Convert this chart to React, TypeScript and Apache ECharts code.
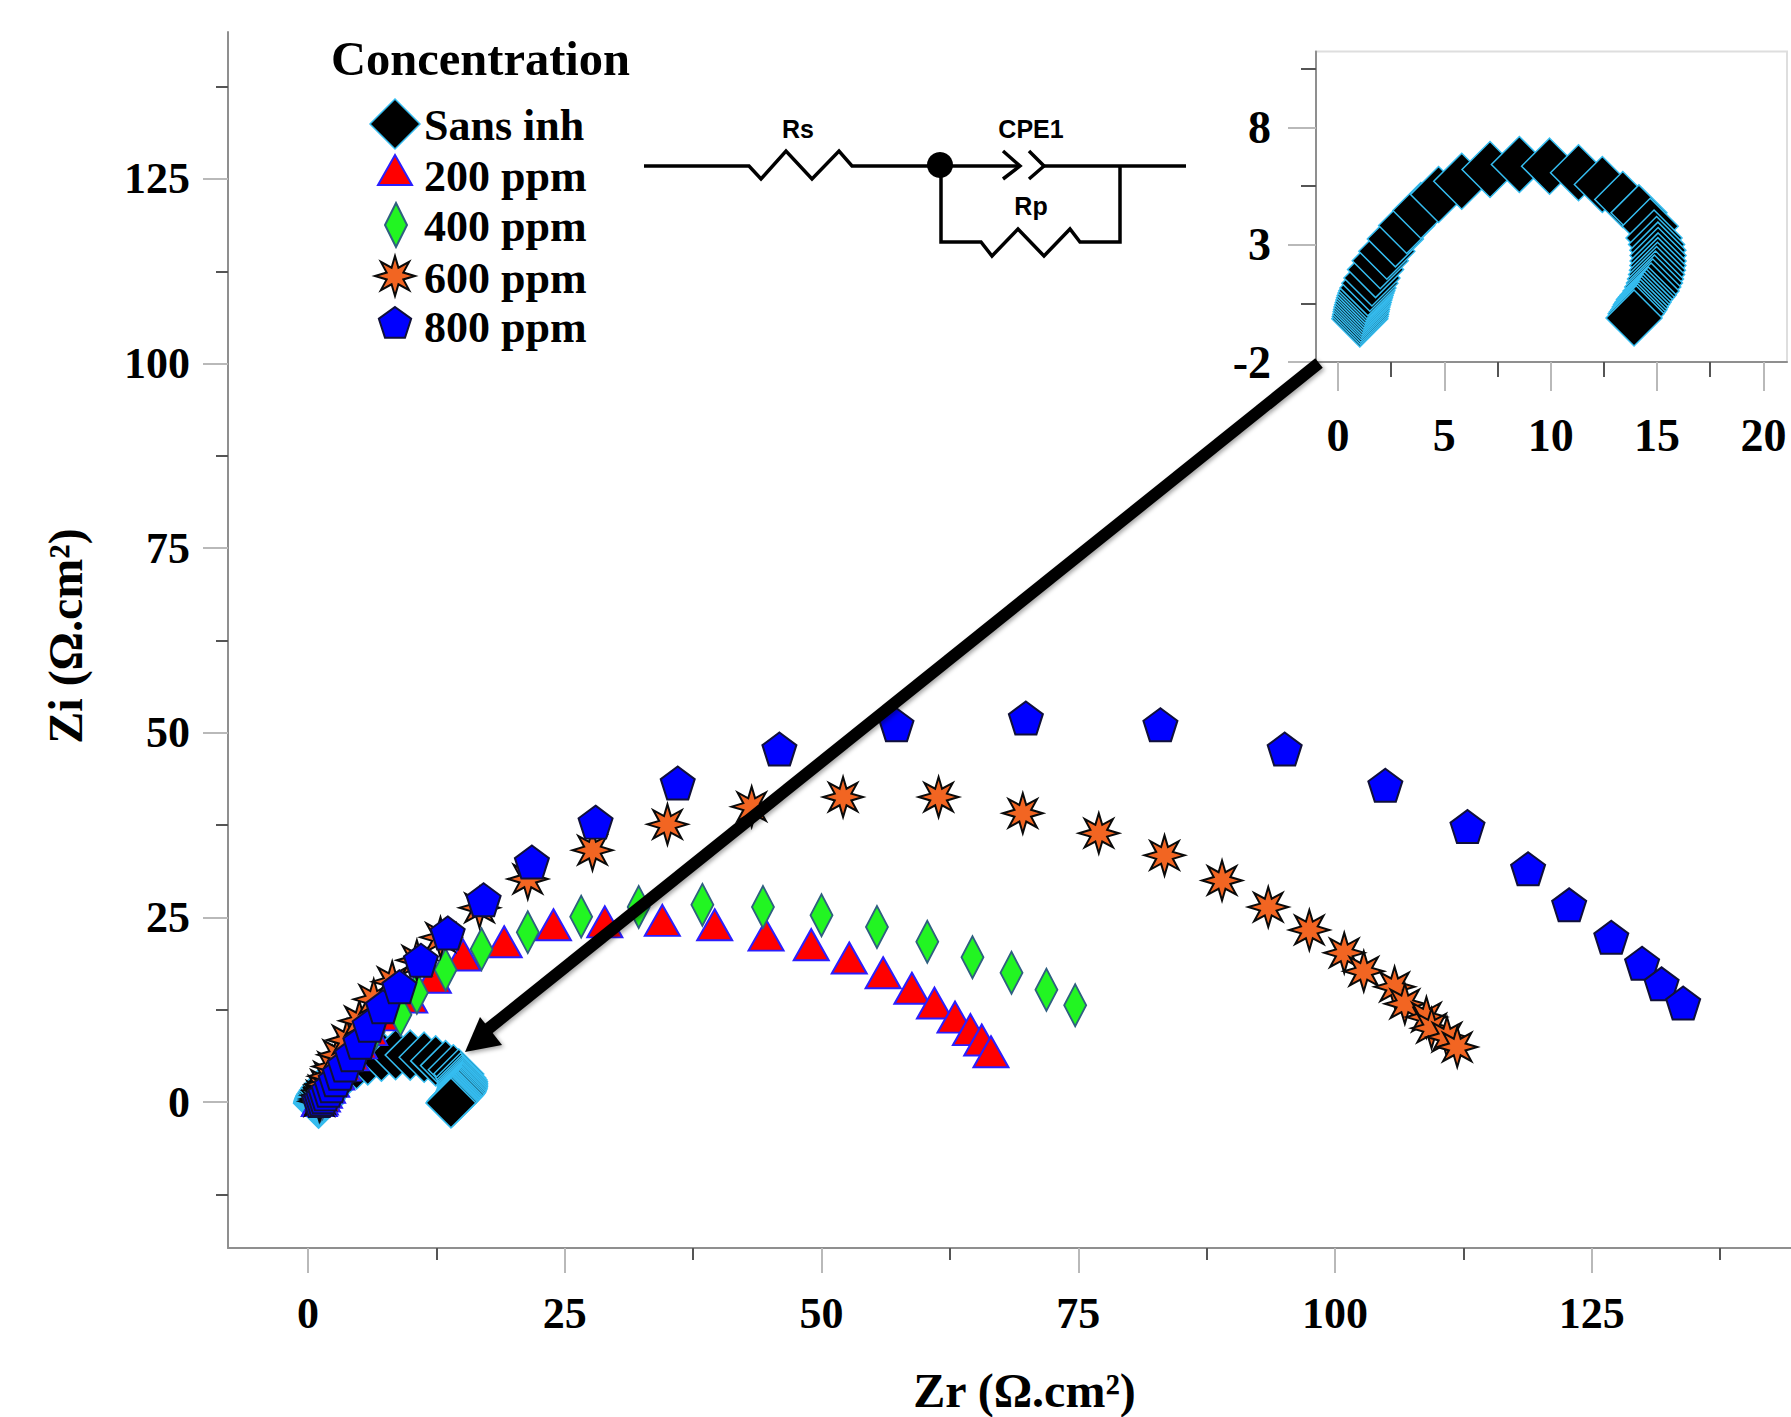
import React, { useEffect, useRef } from "react";
import * as echarts from "echarts";

const SERIF = "'Liberation Serif', 'Times New Roman', serif";
const SANS = "'Liberation Sans', Arial, sans-serif";

const sansInh = [
  [1.03,-0.16],[1.05,-0.06],[1.07,0.04],[1.09,0.14],[1.11,0.24],[1.13,0.34],[1.16,0.44],[1.19,0.54],[1.22,0.64],[1.25,0.74],
  [1.28,0.84],[1.32,0.94],[1.36,1.04],[1.41,1.16],[1.5,1.36],[1.6,1.58],[1.77,1.94],[1.99,2.32],[2.3,2.72],[2.7,3.25],
  [3.23,3.82],[3.9,4.46],[4.73,5.14],[5.82,5.71],[7.15,6.21],[8.53,6.42],[9.95,6.35],[11.31,6.07],[12.43,5.57],[13.39,4.93],
  [14.15,4.36],[14.68,3.79],[14.86,3.29],[14.98,3.01],[15.04,2.77],[15.05,2.54],[15.05,2.31],[15.04,2.11],[15.02,1.91],[14.98,1.73],
  [14.93,1.54],[14.88,1.37],[14.8,1.2],[14.72,1.03],[14.59,0.86],[14.5,0.76],[14.41,0.66],[14.34,0.55],[14.27,0.45],[14.21,0.34],
  [14.15,0.23],[14.08,0.14],[14.02,0.06],[13.92,-0.12],
];
const ppm200 = [
  [1.1,0.2],[1.2,0.4],[1.4,0.8],[1.6,1.3],[1.9,2],[2.3,2.8],[2.8,3.8],[3.4,5],[4.2,6.4],[5,8],[6,9.8],[7,11.8],
  [9.9,14.2],[12.2,16.9],[15.1,19.9],[19.1,21.7],[23.9,24],[28.9,24.4],[34.5,24.6],[39.6,24],[44.6,22.6],[49,21.3],
  [52.7,19.5],[56,17.5],[58.8,15.4],[61,13.4],[63,11.5],[64.5,9.8],[65.6,8.4],[66.5,6.8],
];
const ppm400 = [
  [1.2,0.2],[1.4,0.5],[1.7,1],[2,1.6],[2.5,2.4],[3,3.4],[3.6,4.6],[4.4,6],[5.3,7.6],[6.4,9.5],[9,11.8],[10.6,14.8],
  [13.4,17.9],[16.9,20.7],[21.4,23],[26.6,25.1],[32.2,26.4],[38.4,26.7],[44.3,26.4],[50,25.3],[55.4,23.7],[60.3,21.7],
  [64.7,19.6],[68.5,17.5],[71.9,15.2],[74.7,13.1],
];
const ppm600 = [
  [1.1,0.1],[1.2,0.4],[1.3,0.9],[1.5,1.6],[1.7,2.4],[2,3.5],[2.4,4.8],[2.9,6.4],[3.8,8.4],[5,11],[6.4,13.9],[8.2,16.3],
  [10.6,19.2],[12.9,22.3],[16.7,26.3],[21.4,30.2],[27.7,34.1],[35,37.6],[43.2,40],[52.1,41.3],[61.4,41.3],[69.6,39.1],
  [77,36.4],[83.4,33.4],[89,30],[93.5,26.4],[97.5,23.3],[100.9,20.2],[102.8,17.7],[105.8,15.6],[106.8,13.3],[108.9,11.5],
  [109.4,10],[110.9,8.8],[111.9,7.45],
];
const ppm800 = [
  [1.1,0.2],[1.3,0.4],[1.5,0.7],[1.7,1.1],[2,1.6],[2.3,2.2],[2.7,3],[3.1,3.9],[3.6,5],[4.3,6.4],[5.1,8.1],[6,10.4],
  [7.3,12.9],[8.9,15.6],[11,19.2],[13.6,22.9],[17.1,27.4],[21.8,32.5],[28,37.9],[36,43.2],[45.9,47.8],[57.3,51.1],
  [69.9,52],[83,51.1],[95.1,47.8],[104.9,42.9],[112.9,37.3],[118.8,31.6],[122.8,26.7],[126.9,22.3],[129.9,18.8],[131.8,16],[133.9,13.4],
];

const mainXMajor = [0, 25, 50, 75, 100, 125];
const mainXMinor = [12.5, 37.5, 62.5, 87.5, 112.5, 137.5];
const mainYMajor = [0, 25, 50, 75, 100, 125];
const mainYMinor = [-12.5, 12.5, 37.5, 62.5, 87.5, 112.5, 137.5];
const insetXMajor = [0, 5, 10, 15, 20];
const insetXMinor = [2.5, 7.5, 12.5, 17.5];
const insetYMajor = [-2, 3, 8];
const insetYMinor = [0.5, 5.5, 10.5];

const legendNames = ["Sans inh", "200 ppm", "400 ppm", "600 ppm", "800 ppm"];

const AXIS_GRAY = "#8f8f8f";
const MAJOR_GRAY = "#b9b9b9";
const MINOR_DARK = "#555555";

function starPoints(R: number, r: number) {
  const pts: number[][] = [];
  for (let i = 0; i < 16; i++) {
    const a = (Math.PI * i) / 8 - Math.PI / 2;
    const q = i % 2 === 0 ? R : r;
    pts.push([q * Math.cos(a), q * Math.sin(a)]);
  }
  return pts;
}
function pentaPoints(R: number) {
  const pts: number[][] = [];
  for (let i = 0; i < 5; i++) {
    const a = (2 * Math.PI * i) / 5 - Math.PI / 2;
    pts.push([R * Math.cos(a), R * Math.sin(a)]);
  }
  return pts;
}
function toPath(pts: number[][]) {
  return "path://M" + pts.map((p) => p[0].toFixed(3) + " " + p[1].toFixed(3)).join("L") + "Z";
}

const markStyles = {
  black: { color: "#000000", borderColor: "#35bdf0", borderWidth: 1.5, opacity: 1 },
  red: { color: "#ff0000", borderColor: "#2a1eff", borderWidth: 2, opacity: 1 },
  green: { color: "#22f522", borderColor: "#2f5f80", borderWidth: 2, opacity: 1 },
  orange: { color: "#f26522", borderColor: "#0a0a0a", borderWidth: 2, opacity: 1 },
  blue: { color: "#0000ff", borderColor: "#10103a", borderWidth: 2, opacity: 1 },
};

function axisBase(gridIndex: number, pos: string, min: number, max: number, major: number[], tickLen: number, fontSize: number, labelMargin: number, isX: boolean) {
  return {
    type: "value",
    gridIndex,
    position: pos,
    min,
    max,
    splitLine: { show: false },
    axisLine: { show: true, onZero: false, lineStyle: { color: AXIS_GRAY, width: 2 } },
    axisTick: { show: true, length: tickLen, customValues: major, lineStyle: { color: MAJOR_GRAY, width: 2 } },
    axisLabel: {
      show: true,
      customValues: major,
      margin: labelMargin,
      fontFamily: SERIF,
      fontWeight: "bold",
      fontSize,
      color: "#000",
      ...(isX ? {} : { padding: [10, 0, 0, 0] }),
    },
  };
}
function axisMinor(gridIndex: number, pos: string, min: number, max: number, minor: number[], tickLen: number) {
  return {
    type: "value",
    gridIndex,
    position: pos,
    min,
    max,
    splitLine: { show: false },
    axisLine: { show: false, onZero: false },
    axisLabel: { show: false },
    axisTick: { show: true, length: tickLen, customValues: minor, lineStyle: { color: MINOR_DARK, width: 2 } },
  };
}

function wire(points: number[][], lineWidth = 3.5) {
  return { type: "polyline", z: 50, shape: { points }, style: { stroke: "#000", lineWidth, fill: "none", lineJoin: "miter" } };
}
function labelText(text: string, x: number, y: number, font: string, align = "left") {
  return { type: "text", z: 60, x, y, style: { text, font, fill: "#000", align, verticalAlign: "middle" } };
}
function legendMark(points: number[][], x: number, y: number, style: any) {
  return {
    type: "polygon",
    z: 60,
    x,
    y,
    shape: { points },
    style: { fill: style.color, stroke: style.borderColor, lineWidth: style.borderWidth },
  };
}

export default function App() {
  const ref = useRef<HTMLDivElement>(null);
  useEffect(() => {
    if (!ref.current) return;
    const chart = echarts.init(ref.current, undefined, { renderer: "svg" });
    const starSym = toPath(starPoints(20, 9));
    const pentaSym = toPath(pentaPoints(17));
    const legendFont = `bold 44px ${SERIF}`;
    const legendY = [125, 176, 226, 278, 327];
    const graphic: any[] = [
      labelText("Concentration", 331, 58, `bold 48.5px ${SERIF}`),
      legendMark([[0, -25], [25, 0], [0, 25], [-25, 0]], 395, 124, markStyles.black),
      legendMark([[0, -16], [17, 14], [-17, 14]], 395, 171, markStyles.red),
      legendMark([[0, -22], [11, 0], [0, 22], [-11, 0]], 396, 225, markStyles.green),
      legendMark(starPoints(20, 9), 395, 276, markStyles.orange),
      legendMark(pentaPoints(17), 395, 324, markStyles.blue),
      ...legendNames.map((n, i) => labelText(n, 424, legendY[i], legendFont)),
      // Equivalent circuit
      wire([[644, 166], [749, 166], [761, 179], [786, 151], [812, 179], [839, 151], [852, 166], [1020, 166]]),
      wire([[1003, 151], [1020, 166], [1003, 179]]),
      wire([[1029, 151], [1044, 166], [1029, 179]]),
      wire([[1044, 166], [1186, 166]]),
      wire([[1120, 166], [1120, 242], [1080, 242], [1070, 229], [1044, 256], [1018, 229], [992, 256], [981, 242], [941, 242], [941, 166]]),
      { type: "circle", z: 51, shape: { cx: 940, cy: 165, r: 13 }, style: { fill: "#000" } },
      labelText("Rs", 798, 129, `bold 25px ${SANS}`, "center"),
      labelText("CPE1", 1031, 129, `bold 25px ${SANS}`, "center"),
      labelText("Rp", 1031, 206, `bold 25px ${SANS}`, "center"),
      // Arrow from the inset to the Sans inh arc
      {
        type: "line",
        z: 70,
        shape: { x1: 1319, y1: 363, x2: 488, y2: 1029 },
        style: { stroke: "#000", lineWidth: 12, shadowBlur: 4, shadowColor: "rgba(0,0,0,0.35)", shadowOffsetX: 2, shadowOffsetY: 2 },
      },
      {
        type: "polygon",
        z: 71,
        shape: { points: [[465, 1052], [480, 1017], [488, 1027], [502, 1045]] },
        style: { fill: "#000", shadowBlur: 4, shadowColor: "rgba(0,0,0,0.35)", shadowOffsetX: 2, shadowOffsetY: 2 },
      },
    ];

    const mainSeries = (name: string, data: number[][], symbol: string, symbolSize: number[], itemStyle: any, z: number) => ({
      type: "scatter",
      name,
      data,
      symbol,
      symbolSize,
      itemStyle,
      z,
      clip: false,
      xAxisIndex: 0,
      yAxisIndex: 0,
      silent: true,
    });

    const mx: [number, number] = [-7.79, 144.4];
    const my: [number, number] = [-19.77, 144.9];
    const ix: [number, number] = [-1.03, 21.11];
    const iy: [number, number] = [-2, 11.24];

    const xMain = axisBase(0, "bottom", mx[0], mx[1], mainXMajor, 25, 44, 43, true) as any;
    xMain.name = "Zr (Ω.cm²)";
    xMain.nameLocation = "middle";
    xMain.nameGap = 118;
    xMain.nameTextStyle = { fontFamily: SERIF, fontWeight: "bold", fontSize: 48, color: "#000", padding: [0, 0, 0, 30] };
    const yMain = axisBase(0, "left", my[0], my[1], mainYMajor, 25, 44, 38, false) as any;
    yMain.name = "Zi (Ω.cm²)";
    yMain.nameLocation = "middle";
    yMain.nameGap = 139;
    yMain.nameTextStyle = { fontFamily: SERIF, fontWeight: "bold", fontSize: 48, color: "#000", padding: [0, 0, 0, 8] };

    chart.setOption({
      animation: false,
      backgroundColor: "#ffffff",
      tooltip: { show: false },
      grid: [
        { left: 228, top: 32, width: 1563, height: 1216, outerBoundsMode: "none" },
        { left: 1316, top: 51.5, width: 471, height: 310.5, show: true, borderColor: "#dedede", borderWidth: 2, backgroundColor: "#ffffff", z: 10, outerBoundsMode: "none" },
      ],
      xAxis: [
        xMain,
        axisMinor(0, "bottom", mx[0], mx[1], mainXMinor, 12),
        { ...axisBase(1, "bottom", ix[0], ix[1], insetXMajor, 29, 46, 50, true), z: 11 },
        { ...axisMinor(1, "bottom", ix[0], ix[1], insetXMinor, 15), z: 11 },
      ],
      yAxis: [
        yMain,
        axisMinor(0, "left", my[0], my[1], mainYMinor, 12),
        { ...axisBase(1, "left", iy[0], iy[1], insetYMajor, 28, 46, 45, false), z: 11 },
        { ...axisMinor(1, "left", iy[0], iy[1], insetYMinor, 15), z: 11 },
      ],
      series: [
        mainSeries("Sans inh", sansInh, "diamond", [50, 50], markStyles.black, 2),
        mainSeries("200 ppm", ppm200, "triangle", [35, 31], markStyles.red, 3),
        mainSeries("400 ppm", ppm400, "diamond", [22, 42], markStyles.green, 4),
        mainSeries("600 ppm", ppm600, starSym, [40, 40], markStyles.orange, 5),
        mainSeries("800 ppm", ppm800, pentaSym, [34, 33], markStyles.blue, 6),
        {
          type: "scatter",
          name: "Sans inh",
          data: sansInh,
          symbol: "diamond",
          symbolSize: [56, 56],
          itemStyle: markStyles.black,
          z: 12,
          clip: false,
          xAxisIndex: 2,
          yAxisIndex: 2,
          silent: true,
        },
      ],
      graphic,
    });
    return () => chart.dispose();
  }, []);
  return <div ref={ref} style={{ position: "absolute", left: 0, top: 0, width: 1791, height: 1417 }} />;
}
